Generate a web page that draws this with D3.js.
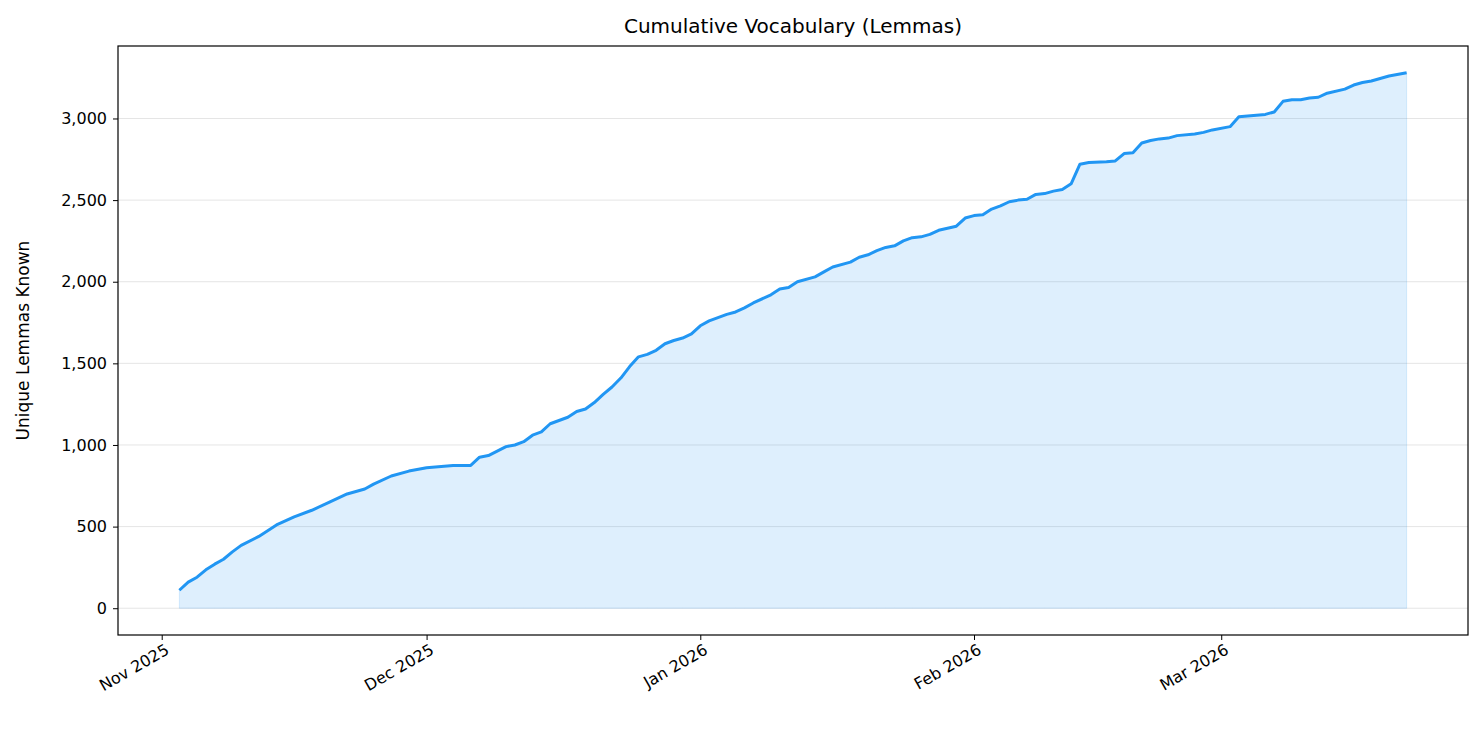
<!DOCTYPE html>
<html><head><meta charset="utf-8">
<script src="https://cdn.jsdelivr.net/npm/d3@7"></script>
<style>body{margin:0;background:#fff;font-family:"DejaVu Sans",sans-serif;}</style>
</head><body><svg id="c" width="1484" height="732"></svg>
<script>
const startDate = "2025-11-01";
const dayOffsets = [2,3,4,5,6,7,8,9,11,13,15,17,19,21,23,24,26,28,30,33,35,36,37,39,40,41,42,43,44,46,47,48,49,50,51,52,53,54,55,56,57,58,59,60,61,62,64,65,66,67,69,70,71,72,74,75,76,78,79,80,81,82,83,84,85,86,87,88,90,91,92,93,94,95,96,97,98,99,100,101,102,103,104,105,107,108,109,110,111,112,113,114,115,117,118,119,121,122,123,125,126,127,128,129,130,131,132,134,135,136,137,138,139,141];
const lemmaCounts = [110,160,190,235,270,300,345,385,440,510,560,600,650,700,730,760,810,840,860,875,875,925,935,990,1000,1020,1060,1080,1130,1170,1205,1220,1260,1310,1355,1410,1480,1540,1555,1580,1620,1640,1655,1680,1730,1760,1800,1815,1840,1870,1920,1955,1965,2000,2030,2060,2090,2120,2150,2165,2190,2210,2220,2250,2270,2275,2290,2315,2340,2390,2405,2410,2445,2465,2490,2500,2505,2535,2540,2555,2565,2600,2720,2730,2735,2740,2785,2790,2850,2865,2875,2880,2895,2905,2915,2930,2950,3010,3015,3025,3040,3105,3115,3115,3125,3130,3155,3180,3205,3220,3230,3245,3260,3280];
const yTicks = [0,500,1000,1500,2000,2500,3000];
const xTickLabels = ["Nov 2025","Dec 2025","Jan 2026","Feb 2026","Mar 2026"];
const xTickDates = ["2025-11-01","2025-12-01","2026-01-01","2026-02-01","2026-03-01"];

const parse = d3.timeParse("%Y-%m-%d");
const t0 = parse(startDate);
const data = dayOffsets.map((o,i)=>({date:d3.timeDay.offset(t0,o), v:lemmaCounts[i]}));

const L=118,R=1468,T=46,B=635;
const svg=d3.select("#c");
const dmin=d3.min(data,d=>d.date), dmax=d3.max(data,d=>d.date);
const span=dmax-dmin;
const x=d3.scaleTime().domain([new Date(+dmin-span*0.05), new Date(+dmax+span*0.05)]).range([L,R]);
const vmax=d3.max(lemmaCounts);
const y=d3.scaleLinear().domain([-vmax*0.05, vmax*1.05]).range([B,T]);

svg.append("g").selectAll("line").data(yTicks).join("line")
 .attr("x1",L).attr("x2",R).attr("y1",d=>y(d)).attr("y2",d=>y(d))
 .attr("stroke","#e5e5e5").attr("stroke-width",1);

svg.append("path").datum(data)
 .attr("d",d3.area().x(d=>x(d.date)).y0(y(0)).y1(d=>y(d.v)))
 .attr("fill","#2196F3").attr("fill-opacity",0.15).attr("stroke","#2196F3").attr("stroke-opacity",0.15);
svg.append("path").datum(data)
 .attr("d",d3.line().x(d=>x(d.date)).y(d=>y(d.v)))
 .attr("fill","none").attr("stroke","#2196F3").attr("stroke-width",3).attr("stroke-linejoin","round");

svg.append("rect").attr("x",L).attr("y",T).attr("width",R-L).attr("height",B-T)
 .attr("fill","none").attr("stroke","#000").attr("stroke-width",1.2);

const fmt=d3.format(",");
const yAxis=svg.append("g").attr("transform",`translate(${L},0)`)
 .call(d3.axisLeft(y).tickValues(yTicks).tickFormat(fmt).tickSize(5).tickPadding(6));
yAxis.attr("font-size",null).attr("font-family",null);
yAxis.select(".domain").remove();
yAxis.selectAll("text").style("font-size","16px").style("font-family","DejaVu Sans").attr("fill","#000");

const xd=xTickDates.map(parse);
const xAxis=svg.append("g").attr("transform",`translate(0,${B})`)
 .call(d3.axisBottom(x).tickValues(xd).tickFormat((d,i)=>xTickLabels[i]).tickSize(5));
xAxis.attr("font-size",null).attr("font-family",null);
xAxis.select(".domain").remove();
xAxis.selectAll("text").style("font-size","16px").style("font-family","DejaVu Sans").attr("fill","#000")
 .attr("text-anchor","end").attr("dy","0").attr("y",0).attr("transform","translate(8,18) rotate(-30)");

svg.append("text").attr("x",(L+R)/2).attr("y",33).attr("text-anchor","middle")
 .style("font-size","20px").text("Cumulative Vocabulary (Lemmas)");
svg.append("text").attr("transform",`translate(29,${(T+B)/2}) rotate(-90)`).attr("text-anchor","middle")
 .style("font-size","17px").text("Unique Lemmas Known");
</script></body></html>
